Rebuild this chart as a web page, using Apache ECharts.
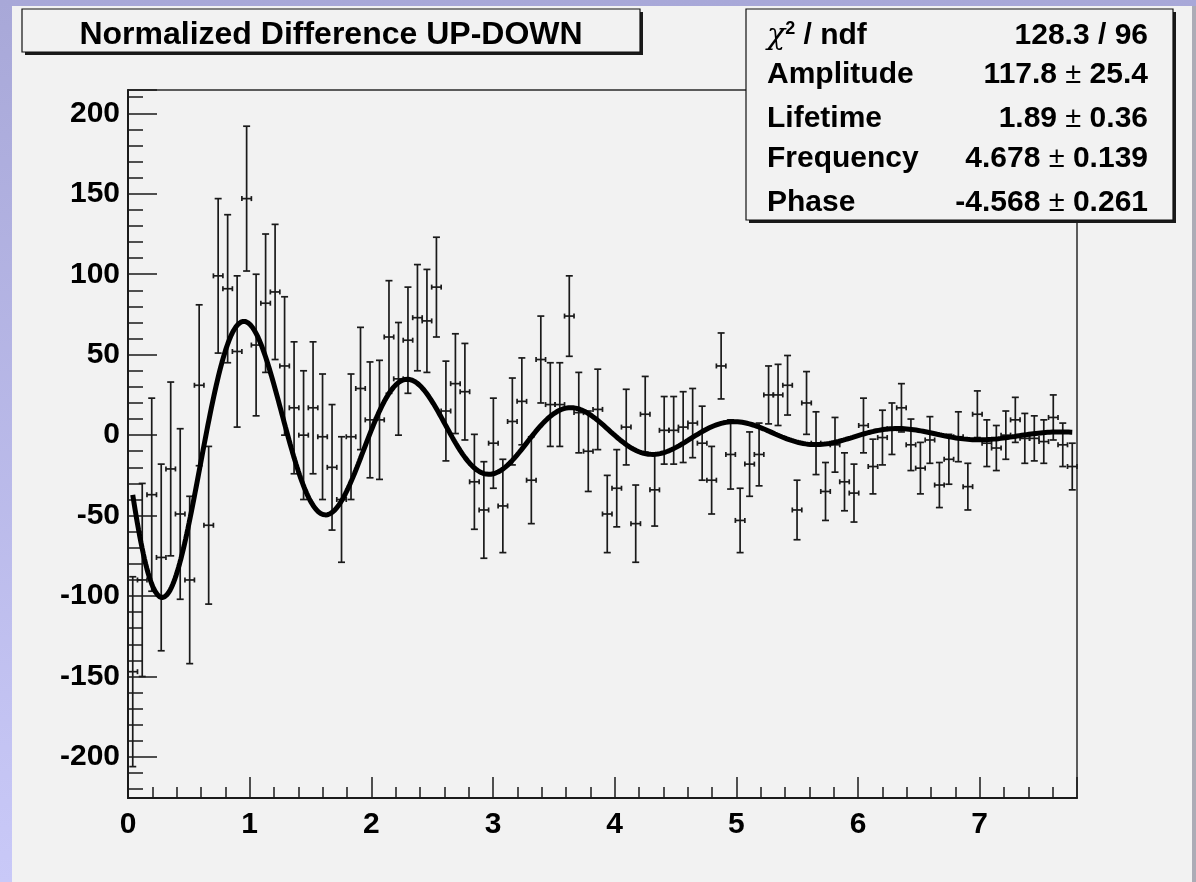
<!DOCTYPE html>
<html>
<head>
<meta charset="utf-8">
<title>Normalized Difference UP-DOWN</title>
<script src="https://cdn.jsdelivr.net/npm/echarts@6.0.0/dist/echarts.min.js"></script>
<style>
  html, body { margin: 0; padding: 0; width: 1196px; height: 882px; overflow: hidden;
    background: linear-gradient(to bottom, #a8a8d8, #c9c9f8); }
  #pad { position: absolute; left: 12px; top: 6px; width: 1180px; height: 876px;
    background: #f2f2f2; border-right: 4px solid #acacb6; }
  #chart { position: absolute; left: 0; top: 0; width: 1196px; height: 882px; }
</style>
</head>
<body>
<div id="pad"></div>
<div id="chart"></div>
<script>
// Histogram binning (time axis)
const X_MIN = 0;
const X_MAX = 7.8;
const BIN_COUNT = 100;

// Normalized UP-DOWN difference per bin
const diffValues = [
  -147, -90, -37, -76, -21, -49, -90, 31, -56, 99,
  91, 52, 147, 56, 82, 89, 43, 17, 0, 17,
  -1, -20, -40, -1, 29, 9.5, 9.5, 61, 35, 59,
  73, 71, 92, 15, 32, 27, -29, -46.5, -5, -44,
  8.5, 21, -28, 47, 19, 19, 74, 14, -10, 16,
  -49, -33, 5, -55, 13, -34, 3, 3, 5, 7.5,
  -5, -28, 43, -12, -53, -18, -12, 25, 25, 31,
  -46.5, 20, -5, -35, -6, -29, -36, 6, -19.5, -1.5,
  4, 17, -6, -20.5, -3, -31, -15, -1, -32, 13,
  -5, -8, 0, 9.5, -2, -2, -4, 11, -6, -19.5
];

// Statistical error per bin
const diffErrors = [
  59, 60, 60, 58, 54, 53, 52, 50, 49, 48,
  46, 47, 45, 44, 43, 42, 43, 41, 40, 41,
  39, 39, 39, 39, 38, 36, 37, 35, 35, 33,
  33, 32, 31, 31, 31, 30, 29.5, 30, 28, 29,
  27, 27, 27, 27, 26, 26, 25, 25, 25, 25,
  24, 24, 23.5, 24, 23.5, 22.5, 21, 21, 22, 21.5,
  23, 21, 20.5, 21.5, 20, 20, 19.5, 18, 19, 18.5,
  18.5, 19.5, 19.5, 18, 17, 18, 18, 17, 17, 17,
  16, 15, 16, 16, 14.5, 14, 15.5, 15.5, 14.5, 14.5,
  14.5, 14, 15, 14, 15.5, 14, 13.5, 14, 13.5, 14.5
];

// Fit results: A * exp(-t/tau) * cos(w*t + phi)
const fitNames = ['Amplitude', 'Lifetime', 'Frequency', 'Phase'];
const fitValues = [117.8, 1.89, 4.678, -4.568];
const fitErrors = [25.4, 0.36, 0.139, 0.261];
const fitDecimals = [1, 2, 3, 3];
const chi2 = 128.3;
const ndf = 96;

// Axis ranges
const Y_MIN = -225.5;
const Y_MAX = 214.5;

const BIN_WIDTH = (X_MAX - X_MIN) / BIN_COUNT;
const binCenter = i => X_MIN + (i + 0.5) * BIN_WIDTH;

const errorData = diffValues.map((v, i) => [binCenter(i), v, diffErrors[i]]);

const [A, TAU, OMEGA, PHI] = fitValues;
const fitFn = t => A * Math.exp(-t / TAU) * Math.cos(OMEGA * t + PHI);
const fitStart = binCenter(0);
const fitEnd = binCenter(BIN_COUNT - 1);
const FIT_SAMPLES = 800;
const fitCurve = [];
for (let k = 0; k <= FIT_SAMPLES; k++) {
  const t = fitStart + (fitEnd - fitStart) * k / FIT_SAMPLES;
  fitCurve.push([t, fitFn(t)]);
}

const FONT = "'Liberation Sans', Arial, Helvetica, sans-serif";
const INK = '#111';

function renderErrorBar(params, api) {
  const x = api.value(0), y = api.value(1), e = api.value(2);
  const top = api.coord([x, y + e]);
  const bot = api.coord([x, y - e]);
  const left = api.coord([x - BIN_WIDTH / 2, y]);
  const right = api.coord([x + BIN_WIDTH / 2, y]);
  const cap = 3.5, tick = 2.5;
  const style = { stroke: '#1a1a1a', lineWidth: 1.7 };
  const seg = (x1, y1, x2, y2) => ({ type: 'line', shape: { x1, y1, x2, y2 }, style });
  return {
    type: 'group',
    children: [
      seg(top[0], top[1], bot[0], bot[1]),
      seg(top[0] - cap, top[1], top[0] + cap, top[1]),
      seg(bot[0] - cap, bot[1], bot[0] + cap, bot[1]),
      seg(left[0], left[1], right[0], right[1]),
      seg(left[0], left[1] - tick, left[0], left[1] + tick),
      seg(right[0], right[1] - tick, right[0], right[1] + tick)
    ]
  };
}

// Stats pave rows
const statRows = [{
  label: '{chi|χ}{sup|2}{b| / ndf}',
  value: `{b|${chi2.toFixed(1)} / ${ndf}}`
}].concat(fitNames.map((n, i) => ({
  label: `{b|${n}}`,
  value: `{b|${fitValues[i].toFixed(fitDecimals[i])} }{pm|±}{b| ${fitErrors[i].toFixed(fitDecimals[i])}}`
})));
const statRowY = [36, 75, 119, 158.5, 203];

const rich = {
  b: { fontFamily: FONT, fontWeight: 'bold', fontSize: 30, fill: '#000' },
  pm: { fontFamily: FONT, fontWeight: 'normal', fontSize: 29, fill: '#000' },
  chi: { fontFamily: "'DejaVu Serif', 'Liberation Serif', serif", fontStyle: 'italic', fontSize: 30, fill: '#000' },
  sup: { fontFamily: FONT, fontWeight: 'bold', fontSize: 18, fill: '#000', padding: [0, 0, 14, 0] }
};

const graphics = [
  // title pave
  { type: 'rect', z: 100, shape: { x: 25, y: 12, width: 618, height: 43 }, style: { fill: '#1a1a1a' } },
  { type: 'rect', z: 101, shape: { x: 22, y: 9, width: 618, height: 43 }, style: { fill: '#f2f2f2', stroke: INK, lineWidth: 1.2 } },
  { type: 'text', z: 102, x: 331, y: 35, style: { text: 'Normalized Difference UP-DOWN', font: `bold 32px ${FONT}`, fill: '#000', align: 'center', verticalAlign: 'middle' } },
  // stats pave
  { type: 'rect', z: 100, shape: { x: 749, y: 12, width: 427, height: 211 }, style: { fill: '#1a1a1a' } },
  { type: 'rect', z: 101, shape: { x: 746, y: 9, width: 427, height: 211 }, style: { fill: '#f2f2f2', stroke: INK, lineWidth: 1.2 } }
];
statRows.forEach((r, i) => {
  graphics.push({ type: 'text', z: 102, x: 767, y: statRowY[i], style: { text: r.label, rich, align: 'left', verticalAlign: 'middle' } });
  graphics.push({ type: 'text', z: 102, x: 1148, y: statRowY[i], style: { text: r.value, rich, align: 'right', verticalAlign: 'middle' } });
});

const tickStyle = { color: '#1a1a1a', width: 1.5 };
const labelStyle = { color: '#000', fontFamily: FONT, fontWeight: 'bold', fontSize: 30 };

const chart = echarts.init(document.getElementById('chart'), null, { renderer: 'canvas' });
chart.setOption({
  animation: false,
  backgroundColor: 'transparent',
  grid: {
    left: 128, right: 119, top: 90, bottom: 84,
    show: true, borderColor: '#2a2a2a', borderWidth: 1.5, backgroundColor: 'transparent'
  },
  xAxis: {
    type: 'value', min: X_MIN, max: X_MAX, interval: 1,
    axisLine: { show: true, onZero: false, lineStyle: { color: '#1a1a1a', width: 2 } },
    axisTick: { show: true, inside: true, length: 21, lineStyle: tickStyle },
    minorTick: { show: true, splitNumber: 5, length: 11, lineStyle: tickStyle },
    splitLine: { show: false },
    axisLabel: Object.assign({ margin: 12, showMaxLabel: false }, labelStyle)
  },
  yAxis: {
    type: 'value', min: Y_MIN, max: Y_MAX, splitNumber: 8,
    axisLine: { show: true, onZero: false, lineStyle: { color: '#1a1a1a', width: 2 } },
    axisTick: { show: true, inside: true, length: 29, lineStyle: tickStyle },
    minorTick: { show: true, splitNumber: 5, length: 15, lineStyle: tickStyle },
    splitLine: { show: false },
    axisLabel: Object.assign({ margin: 8, showMinLabel: false, showMaxLabel: false, padding: [6, 0, 0, 0] }, labelStyle)
  },
  series: [
    {
      type: 'custom', name: 'data', data: errorData, renderItem: renderErrorBar,
      encode: { x: 0, y: 1 }, z: 3, silent: true
    },
    {
      type: 'line', name: 'fit', data: fitCurve, showSymbol: false, symbol: 'none',
      lineStyle: { color: '#000', width: 5 }, z: 4, silent: true
    }
  ],
  graphic: graphics
});
</script>
</body>
</html>
